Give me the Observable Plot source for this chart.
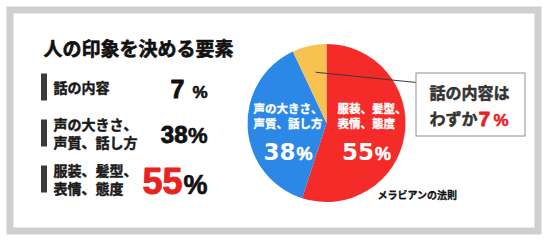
<!DOCTYPE html>
<html>
<head>
<meta charset="utf-8">
<script src="https://cdn.jsdelivr.net/npm/d3@7"></script>
<script src="https://cdn.jsdelivr.net/npm/@observablehq/plot@0.6"></script>
<style>
html, body { margin: 0; padding: 0; background: #fff; }
</style>
</head>
<body>
<div id="chart"></div>
<script>
// ---- data ----
const title = "人の印象を決める要素";
const categories = ["話の内容", "声の大きさ、\n声質、話し方", "服装、髪型、\n表情、態度"];
const values = [7, 38, 55];
const unit = "%";
const calloutLines = ["話の内容は", "わずか"];
const sourceNote = "メラビアンの法則";

// ---- styles ----
const CJK = "'Noto Sans CJK JP', 'Noto Sans', sans-serif";
const LAT = "'Liberation Sans', Arial, sans-serif";
const DEJ = "'DejaVu Sans', sans-serif";
const sliceColor = d3.scaleOrdinal(categories, ["#f8c250", "#2b88e7", "#f42b28"]);
const RED = "#e8221f";
const numSize = [25, 24, 36];
const pctSize = [17, 22, 27];
const numEndOffset = [-23, -20, -25];

// ---- layout helpers ----
const rowY = d3.scalePoint(categories, [87, 179]);
const maxVal = d3.max(values);
const minVal = d3.min(values);
const rowLines = categories.flatMap((c, i) => {
  const parts = c.split("\n");
  return parts.map((t, j) => ({row: i, text: t, off: (j - (parts.length - 1) / 2)}));
});

// pie
const CX = 326.5, CY = 123, R = 79;
const pieData = categories.map((c, i) => ({category: c, value: values[i]})).reverse();
const arcs = d3.pie().sort(null).value(d => d.value)(pieData);
const arcGen = d3.arc().innerRadius(0).outerRadius(R);
const calloutArc = d3.arc().innerRadius(0).outerRadius(R * 1.33);
const bigArcs = arcs.filter(a => a.data.value !== minVal);
const smallArc = arcs.find(a => a.data.value === minVal);
const sliceLines = bigArcs.flatMap(a => a.data.category.split("\n").map((t, j) => ({arc: a, text: t, j})));

function pieMark() {
  const g = d3.create("svg:g").attr("transform", `translate(${CX},${CY})`);
  g.selectAll("path").data(arcs).join("path")
    .attr("d", arcGen)
    .attr("fill", d => sliceColor(d.data.category));
  return g.node();
}

const boxX1 = 416, boxX2 = 525, boxY1 = 73, boxY2 = 136;
const ink = (c, w) => ({fill: c, stroke: c, strokeWidth: w});

const chart = Plot.plot({
  width: 549,
  height: 242,
  margin: 0,
  x: {type: "identity", axis: null},
  y: {type: "identity", axis: null},
  color: {type: "identity"},
  marks: [
    Plot.frame({stroke: "#cfcfcf", strokeWidth: 7, insetLeft: 9.5, insetTop: 9.5, insetRight: 11.5, insetBottom: 11.5}),
    Plot.text([title], {x: 43, y: 55.5, text: d => d, textAnchor: "start", lineAnchor: "bottom",
      fontSize: 19, fontWeight: "bold", fontFamily: CJK, ...ink("#111", 0.6)}),
    // row markers
    Plot.rect(categories, {x1: 41, x2: 47, y1: d => rowY(d) - 13.5, y2: d => rowY(d) + 13.5, fill: "#3a3a3a"}),
    // row labels
    Plot.text(rowLines, {x: 53, y: d => rowY(categories[d.row]) + 1 + d.off * 17.5, text: "text",
      textAnchor: "start", lineAnchor: "middle",
      fontSize: 14, fontWeight: "bold", fontFamily: CJK, ...ink("#1a1a1a", 0.45)}),
    // values
    Plot.text(values, {x: (d, i) => 207 + numEndOffset[i], y: (d, i) => rowY(categories[i]) + 0.4 * numSize[i],
      text: d => String(d), textAnchor: "end", lineAnchor: "bottom",
      fontSize: (d, i) => numSize[i], fill: d => d === maxVal ? RED : "#111",
      stroke: d => d === maxVal ? RED : "#111", strokeWidth: 0.9,
      fontWeight: "bold", fontFamily: LAT}),
    Plot.text(values, {x: 207, y: (d, i) => rowY(categories[i]) + 0.4 * numSize[i],
      text: () => unit, textAnchor: "end", lineAnchor: "bottom",
      fontSize: (d, i) => pctSize[i], ...ink("#111", 0.6),
      fontWeight: "bold", fontFamily: LAT}),
    // pie
    pieMark,
    // callout
    Plot.link([smallArc], {x1: d => CX + calloutArc.centroid(d)[0], y1: d => CY + calloutArc.centroid(d)[1],
      x2: boxX1, y2: 82, stroke: "#3a3a3a", strokeWidth: 1}),
    Plot.rect([0], {x1: boxX1, x2: boxX2, y1: boxY1, y2: boxY2, fill: "#fff", stroke: "#8f8f8f", strokeWidth: 1}),
    Plot.text([calloutLines[0]], {x: 429, y: 98.7, text: d => d, textAnchor: "start", lineAnchor: "bottom",
      fontSize: 16, fontWeight: "bold", fontFamily: CJK, ...ink("#333", 0.5)}),
    Plot.text([calloutLines[1]], {x: 429, y: 124.5, text: d => d, textAnchor: "start", lineAnchor: "bottom",
      fontSize: 16, fontWeight: "bold", fontFamily: CJK, ...ink("#333", 0.5)}),
    Plot.text([minVal], {x: 478, y: 125, text: d => String(d), textAnchor: "start", lineAnchor: "bottom",
      fontSize: 21, fontWeight: "bold", fontFamily: LAT, ...ink(RED, 0.8)}),
    Plot.text([unit], {x: 493, y: 125, text: d => d, textAnchor: "start", lineAnchor: "bottom",
      fontSize: 17, fontWeight: "bold", fontFamily: LAT, ...ink(RED, 0.5)}),
    // slice labels
    Plot.text(sliceLines, {x: d => CX + arcGen.centroid(d.arc)[0] - (d.arc.data.value === maxVal ? 28.5 : 34),
      y: d => CY - 14.5 + d.j * 15,
      text: "text", textAnchor: "start", lineAnchor: "middle",
      fontSize: 11.5, fontWeight: "bold", fontFamily: CJK, ...ink("#fff", 0.35)}),
    Plot.text(bigArcs, {x: d => CX + arcGen.centroid(d)[0] + 8, y: 159.5,
      text: d => String(d.data.value), textAnchor: "end", lineAnchor: "bottom",
      fontSize: 23, fontWeight: "bold", fontFamily: DEJ, fill: "#fff"}),
    Plot.text(bigArcs, {x: d => CX + arcGen.centroid(d)[0] + 9, y: 159.5,
      text: () => unit, textAnchor: "start", lineAnchor: "bottom",
      fontSize: 18, fontWeight: "bold", fontFamily: LAT, ...ink("#fff", 0.5)}),
    // source
    Plot.text([sourceNote], {x: 377, y: 198.3, text: d => d, textAnchor: "start", lineAnchor: "bottom",
      fontSize: 10, fontWeight: "bold", fontFamily: CJK, ...ink("#111", 0.3)})
  ]
});
document.getElementById("chart").append(chart);
</script>
</body>
</html>
